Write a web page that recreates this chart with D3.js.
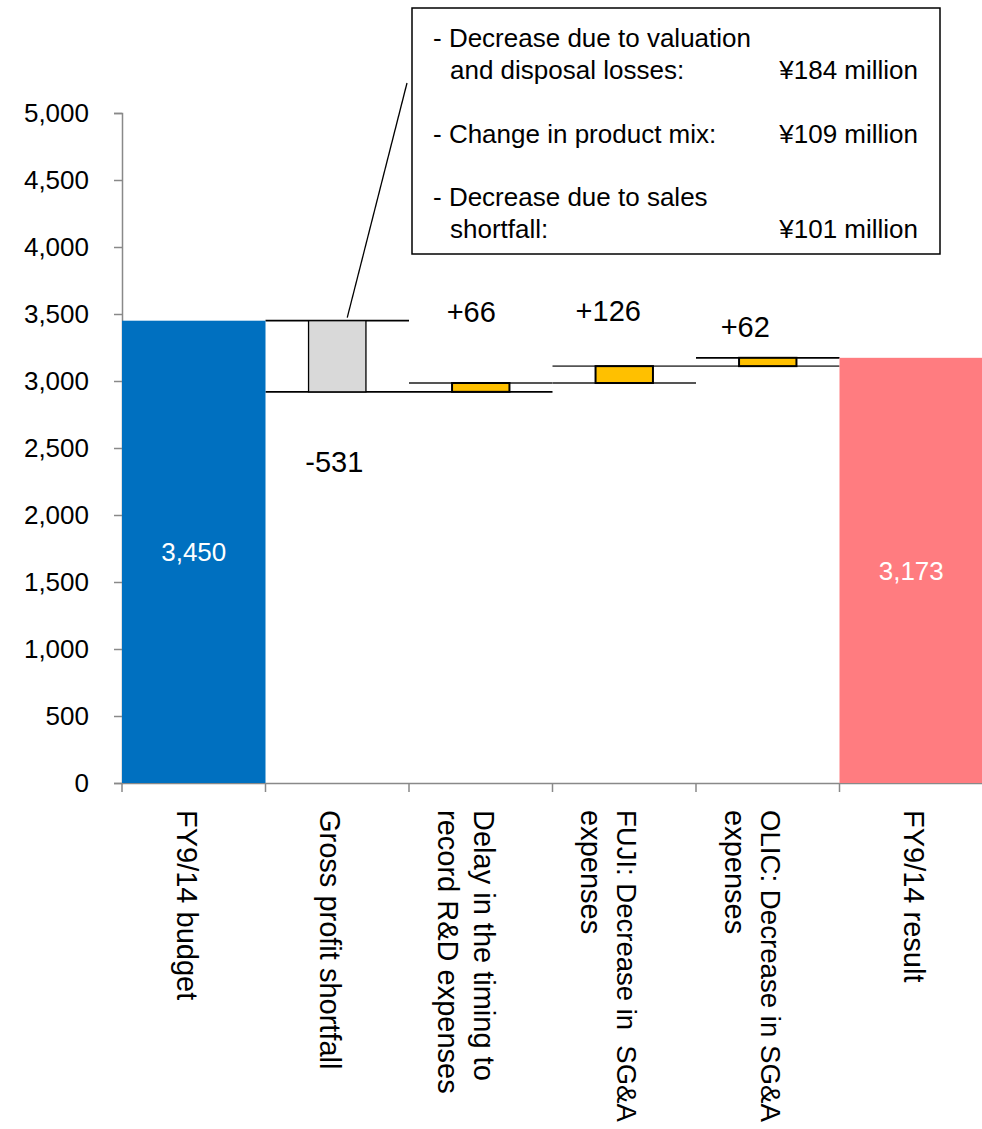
<!DOCTYPE html>
<html>
<head>
<meta charset="utf-8">
<script src="https://cdn.jsdelivr.net/npm/d3@7"></script>
<style>
  html, body { margin: 0; padding: 0; background: #fff; }
  svg text { font-family: "Liberation Sans", Arial, sans-serif; }
</style>
</head>
<body>
<svg id="chart" width="982" height="1129"></svg>
<script>
// ---------------- data ----------------
const categories = ["budget", "gross", "rd", "fuji", "olic", "result"];
const categoryLines = [
  ["FY9/14 budget"],
  ["Gross profit shortfall"],
  ["Delay in the timing to", "record R&D expenses"],
  ["FUJI: Decrease in  SG&A", "expenses"],
  ["OLIC: Decrease in SG&A", "expenses"],
  ["FY9/14 result"]
];
const values = [3450, -531, 66, 126, 62, 3173];
const kinds = ["total", "delta", "delta", "delta", "delta", "total"];
const valueLabels = ["3,450", "-531", "+66", "+126", "+62", "3,173"];
const yTicks = [0, 500, 1000, 1500, 2000, 2500, 3000, 3500, 4000, 4500, 5000];
const noteItems = [
  ["- Decrease due to valuation", "and disposal losses:"],
  ["- Change in product mix:"],
  ["- Decrease due to sales", "shortfall:"]
];
const noteAmounts = ["¥184 million", "¥109 million", "¥101 million"];

// ---------------- layout ----------------
const FONT = 26, CAT_FONT = 29, DELTA_FONT = 29, TOTAL_FONT = 26;
const CAT_TOP = 810, CAT_MAX_LEN = 312;
const svg = d3.select("#chart");
const x = d3.scaleBand().domain(categories).range([122, 983]).padding(0);
const y = d3.scaleLinear().domain([0, 5000]).range([783, 113]);
const fills = { total0: "#0070c0", total5: "#ff7c80", neg: "#d9d9d9", pos: "#ffc000" };

// compute waterfall
let run = 0;
const rows = categories.map((c, i) => {
  let lo, hi, start, end;
  if (kinds[i] === "total") { start = 0; end = values[i]; run = values[i]; lo = 0; hi = values[i]; }
  else { start = run; end = run + values[i]; run = end; lo = Math.min(start, end); hi = Math.max(start, end); }
  return { c, i, v: values[i], kind: kinds[i], start, end, lo, hi, label: valueLabels[i] };
});

// y axis
const yAxis = d3.axisLeft(y).tickValues(yTicks).tickSize(8).tickPadding(25)
  .tickFormat(d3.format(","));
const gy = svg.append("g").attr("transform", "translate(122,0)").call(yAxis);
gy.select(".domain").attr("stroke", "#898989").attr("stroke-width", 1.5).attr("d", "M-8,113.5H0.5V783.5H-8");
gy.selectAll(".tick line").attr("stroke", "#898989").attr("stroke-width", 1.5);
gy.selectAll(".tick text").attr("font-size", FONT).attr("fill", "#000")
  .style("font-family", '"Liberation Sans", Arial, sans-serif');

// x axis
const xAxis = d3.axisBottom(x).tickSize(0).tickFormat("");
const gx = svg.append("g").attr("transform", "translate(0,783)").call(xAxis);
gx.select(".domain").attr("stroke", "#898989").attr("stroke-width", 1.5).attr("d", "M122,0.5H983");
const bounds = categories.map(c => x(c)).concat([x.range()[1]]);
gx.selectAll(".bound").data(bounds).enter().append("line")
  .attr("x1", d => d).attr("x2", d => d).attr("y1", 0).attr("y2", 9)
  .attr("stroke", "#898989").attr("stroke-width", 1.5);

// connector lines
const deltas = rows.filter(r => r.kind === "delta");
const conn = svg.append("g");
deltas.forEach(r => {
  [[r.start, r.i === 1 || r.i === 2 ? "#000" : "#555"], [r.end, r.i === 1 || r.i === 4 ? "#000" : "#555"]].forEach(([val, col]) => {
    conn.append("line")
      .attr("x1", x(r.c)).attr("x2", x(r.c) + x.bandwidth())
      .attr("y1", y(val)).attr("y2", y(val))
      .attr("stroke", col).attr("stroke-width", 1.8);
  });
});

// bars
const bw = x.bandwidth() * 0.4;
svg.append("g").selectAll("rect").data(rows).enter().append("rect")
  .attr("x", d => d.kind === "total" ? x(d.c) : x(d.c) + (x.bandwidth() - bw) / 2)
  .attr("width", d => d.kind === "total" ? x.bandwidth() : bw)
  .attr("y", d => y(d.hi))
  .attr("height", d => y(d.lo) - y(d.hi))
  .attr("fill", d => d.kind === "total" ? (d.i === 0 ? fills.total0 : fills.total5) : (d.v < 0 ? fills.neg : fills.pos))
  .attr("stroke", d => d.kind === "total" ? "none" : "#000")
  .attr("stroke-width", d => d.v < 0 ? 1.3 : 2);

// value labels
const deltaLabelGap = { 1: 70, 2: 71, 3: 55, 4: 31 };
const deltaLabelShift = { 1: -3, 2: -9.5, 3: -16, 4: -22.5 };
svg.append("g").selectAll("text").data(rows).enter().append("text")
  .attr("x", d => x(d.c) + x.bandwidth() / 2 + (d.kind === "delta" ? deltaLabelShift[d.i] : 0))
  .attr("y", d => {
    if (d.kind === "total") return (y(d.hi) + y(0)) / 2;
    return d.v < 0 ? y(d.lo) + deltaLabelGap[d.i] : y(d.hi) - deltaLabelGap[d.i];
  })
  .attr("dy", "0.35em")
  .attr("text-anchor", "middle")
  .attr("font-size", d => d.kind === "total" ? TOTAL_FONT : DELTA_FONT)
  .attr("fill", d => d.kind === "total" ? "#fff" : "#000")
  .text(d => d.label);

// category labels (rotated)
const labelNudge = [-10, -10, 0, 0, 0, 0];
const catG = svg.append("g");
categoryLines.forEach((lines, i) => {
  const cx = x(categories[i]) + x.bandwidth() / 2 + labelNudge[i];
  lines.forEach((ln, j) => {
    const t = catG.append("text")
      .attr("transform", `translate(${cx - 7 - j * 36},${CAT_TOP}) rotate(90)`)
      .attr("font-size", CAT_FONT)
      .attr("fill", "#000")
      .attr("text-anchor", "start")
      .style("white-space", "pre")
      .attr("xml:space", "preserve")
      .text(ln);
    const len = t.node().getComputedTextLength();
    if (len > CAT_MAX_LEN) t.attr("font-size", CAT_FONT * CAT_MAX_LEN / len);
  });
});

// callout box
const box = { x: 412, y: 8, w: 528, h: 246 };
svg.append("rect").attr("x", box.x).attr("y", box.y).attr("width", box.w).attr("height", box.h)
  .attr("fill", "#fff").attr("stroke", "#000").attr("stroke-width", 1.5);
svg.append("line")
  .attr("x1", x("gross") + x.bandwidth() / 2 + 10).attr("y1", y(3450) - 3)
  .attr("x2", box.x - 5).attr("y2", 83)
  .attr("stroke", "#000").attr("stroke-width", 1.3);
const noteG = svg.append("g");
let row = 0;
const rowH = 31.8, row0 = 38;
noteItems.forEach((lines, k) => {
  lines.forEach((ln, j) => {
    noteG.append("text")
      .attr("x", j === 0 ? 433 : 450)
      .attr("y", row0 + (row + j) * rowH).attr("dy", "0.35em")
      .attr("font-size", FONT).attr("fill", "#000").text(ln);
  });
  noteG.append("text")
    .attr("x", 918).attr("text-anchor", "end")
    .attr("y", row0 + (row + lines.length - 1) * rowH).attr("dy", "0.35em")
    .attr("font-size", FONT).attr("fill", "#000").text(noteAmounts[k]);
  row += lines.length + 1;
});
</script>
</body>
</html>
